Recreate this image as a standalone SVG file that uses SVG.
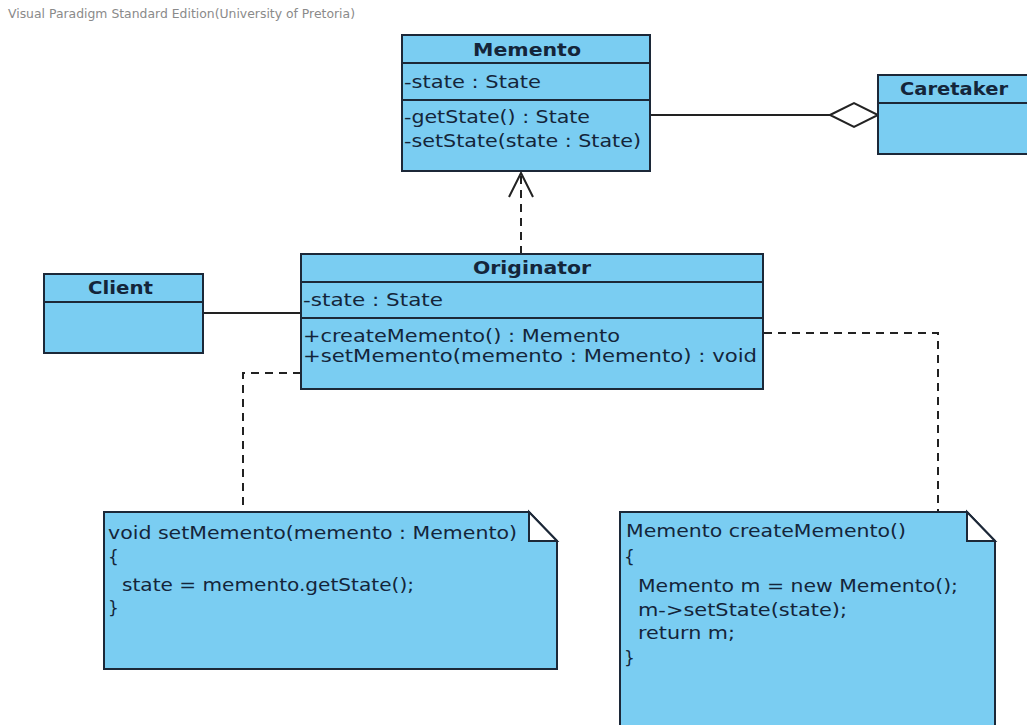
<svg xmlns="http://www.w3.org/2000/svg" width="1027" height="725" viewBox="0 0 1027 725">
<style>
.box{fill:#7ACDF2;stroke:#1c2838;stroke-width:2}
.ln{stroke:#1c2838;stroke-width:2;fill:none}
.t{font-family:"DejaVu Sans",sans-serif;font-size:17px;fill:#14253a}
.h{font-family:"DejaVu Sans",sans-serif;font-size:17px;font-weight:bold;fill:#14253a}
.c{stroke:#222;stroke-width:2;fill:none}
.d{stroke:#222;stroke-width:2;fill:none;stroke-dasharray:8,6}
.fold{fill:#fff;stroke:#1c2838;stroke-width:2}
</style>
<rect width="1027" height="725" fill="#fff"/>
<text x="8" y="18" font-family="DejaVu Sans,sans-serif" font-size="12" fill="#8a8a8a" textLength="347" lengthAdjust="spacingAndGlyphs">Visual Paradigm Standard Edition(University of Pretoria)</text>
<g id="connectors">
<line class="c" x1="650" y1="115" x2="830" y2="115"/>
<polygon points="830,115 854,103 878,115 854,127" fill="#fff" stroke="#222" stroke-width="2"/>
<line class="c" x1="203" y1="313" x2="301" y2="313"/>
<line class="d" x1="521" y1="254" x2="521" y2="174"/>
<polyline class="c" points="509,197 521,173 533,197"/>
<polyline class="d" points="301,373 243,373 243,512"/>
<polyline class="d" points="764,333 938,333 938,512"/>
</g>
<g id="memento">
<rect class="box" x="402" y="35" width="248" height="136"/>
<line class="ln" x1="402" y1="63" x2="650" y2="63"/>
<line class="ln" x1="402" y1="100" x2="650" y2="100"/>
<text class="h" x="527" y="56" text-anchor="middle" textLength="108" lengthAdjust="spacingAndGlyphs">Memento</text>
<text class="t" x="404" y="88" textLength="137" lengthAdjust="spacingAndGlyphs">-state : State</text>
<text class="t" x="404" y="123" textLength="186" lengthAdjust="spacingAndGlyphs">-getState() : State</text>
<text class="t" x="404" y="147" textLength="237" lengthAdjust="spacingAndGlyphs">-setState(state : State)</text>
</g>
<g id="caretaker">
<rect class="box" x="878" y="75" width="160" height="79"/>
<line class="ln" x1="878" y1="103" x2="1038" y2="103"/>
<text class="h" x="900" y="95" textLength="108" lengthAdjust="spacingAndGlyphs">Caretaker</text>
</g>
<g id="client">
<rect class="box" x="44" y="274" width="159" height="79"/>
<line class="ln" x1="44" y1="302" x2="203" y2="302"/>
<text class="h" x="88" y="294" textLength="65" lengthAdjust="spacingAndGlyphs">Client</text>
</g>
<g id="originator">
<rect class="box" x="301" y="254" width="462" height="135"/>
<line class="ln" x1="301" y1="282" x2="763" y2="282"/>
<line class="ln" x1="301" y1="318" x2="763" y2="318"/>
<text class="h" x="473" y="274" textLength="118" lengthAdjust="spacingAndGlyphs">Originator</text>
<text class="t" x="303" y="306" textLength="140" lengthAdjust="spacingAndGlyphs">-state : State</text>
<text class="t" x="303" y="342" textLength="317" lengthAdjust="spacingAndGlyphs">+createMemento() : Memento</text>
<text class="t" x="303" y="362" textLength="454" lengthAdjust="spacingAndGlyphs">+setMemento(memento : Memento) : void</text>
</g>
<g id="note-setmemento">
<path class="box" d="M104,512 H529 L557,541 V669 H104 Z"/>
<path class="fold" d="M529,512 L557,541 H529 Z"/>
<text class="t" x="108" y="539" textLength="409" lengthAdjust="spacingAndGlyphs">void setMemento(memento : Memento)</text>
<text class="t" x="108" y="563">{</text>
<text class="t" x="122" y="591" textLength="292" lengthAdjust="spacingAndGlyphs">state = memento.getState();</text>
<text class="t" x="108" y="614">}</text>
</g>
<g id="note-creatememento">
<path class="box" d="M620,512 H967 L995,541 V740 H620 Z"/>
<path class="fold" d="M967,512 L995,541 H967 Z"/>
<text class="t" x="626" y="537" textLength="280" lengthAdjust="spacingAndGlyphs">Memento createMemento()</text>
<text class="t" x="624" y="563">{</text>
<text class="t" x="638" y="592" textLength="320" lengthAdjust="spacingAndGlyphs">Memento m = new Memento();</text>
<text class="t" x="638" y="616" textLength="209" lengthAdjust="spacingAndGlyphs">m-&gt;setState(state);</text>
<text class="t" x="638" y="639" textLength="97" lengthAdjust="spacingAndGlyphs">return m;</text>
<text class="t" x="624" y="664">}</text>
</g>
</svg>
